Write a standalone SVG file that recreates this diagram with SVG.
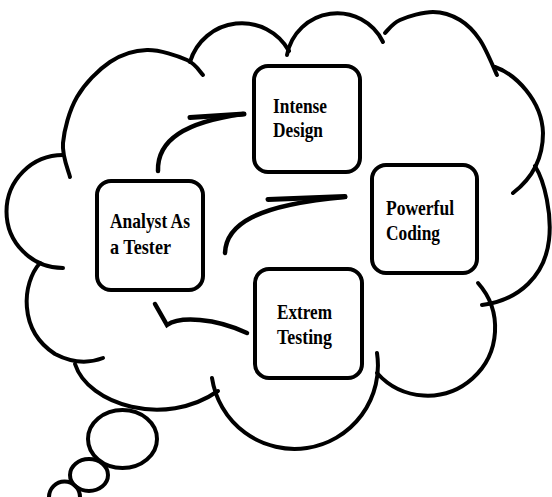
<svg xmlns="http://www.w3.org/2000/svg" width="552" height="497" viewBox="0 0 552 497">
<style>
.cl{fill:none;stroke:#000;stroke-width:4;stroke-linecap:round}
.box{fill:#fff;stroke:#000;stroke-width:4}
.t{font-family:"Liberation Serif","Times New Roman",serif;font-weight:bold;font-size:21px;fill:#000}
.cn{fill:none;stroke:#000;stroke-width:4.5;stroke-linecap:round}
.bar{fill:none;stroke:#000;stroke-width:5;stroke-linecap:round}
</style>
<rect width="552" height="497" fill="#fff"/>
<g id="cloud">
<path class="cl" d="M70,177 C68.8,171.3 61.8,156.3 63,143 C64.2,129.7 69.2,110.5 77,97 C84.8,83.5 98.3,69.8 110,62 C121.7,54.2 134.2,50.3 147,50 C159.8,49.7 177.7,55.8 187,60 C196.3,64.2 200.3,72.5 203,75"/>
<path class="cl" d="M190,62 A54,54 0 0 1 289,51"/>
<path class="cl" d="M287,55 A51,51 0 0 1 383,42"/>
<path class="cl" d="M385,33 C387.5,30.8 392,23.5 400,20 C408,16.5 423,12 433,12 C443,12 452.2,15.3 460,20 C467.8,24.7 473.8,30.8 480,40 C486.2,49.2 494.2,69.2 497,75"/>
<path class="cl" d="M495,67 C515,74 542,100 543,133 C543,160 530,180 513,193"/>
<path class="cl" d="M535,166 C545,182 552,215 549,240 C545,275 520,300 482,305"/>
<path class="cl" d="M478,283 A67,67 0 0 1 377,373"/>
<path class="cl" d="M377,353 A83,83 0 0 1 212,378"/>
<path class="cl" d="M75,364 C88,405 165,428 218,391"/>
<path class="cl" d="M40,263 C22,283 18,330 55,354 Q80,367 103,358"/>
<path class="cl" d="M63,155 A56.5,56.5 0 0 0 63,268"/>
<ellipse class="cl" cx="122.5" cy="439" rx="34.5" ry="29"/>
<ellipse class="cl" cx="89" cy="475" rx="19" ry="16"/>
<circle class="cl" cx="64.5" cy="497" r="15.5"/>
</g>
<g id="connectors">
<path class="cn" d="M158,171 C157,140 185,122 243,114"/>
<path class="bar" d="M190,117.5 L244,114"/>
<path class="cn" d="M225,253 C226,225 255,205 345,197"/>
<path class="bar" d="M268,199.5 L345,196.5"/>
<path class="cn" style="stroke-linejoin:miter" d="M155,304 L167,325 C180,316 215,318 247,333"/>
</g>
<g id="node-analyst">
<rect class="box" x="97" y="181" width="106" height="109" rx="14"/>
<text class="t" x="110" y="228" textLength="80" lengthAdjust="spacingAndGlyphs">Analyst As</text>
<text class="t" x="110" y="254" textLength="61" lengthAdjust="spacingAndGlyphs">a Tester</text>
</g>
<g id="node-design">
<rect class="box" x="254" y="66" width="106" height="106" rx="14"/>
<text class="t" x="273" y="113" textLength="54" lengthAdjust="spacingAndGlyphs">Intense</text>
<text class="t" x="273" y="137" textLength="50" lengthAdjust="spacingAndGlyphs">Design</text>
</g>
<g id="node-coding">
<rect class="box" x="372" y="165" width="105" height="108" rx="14"/>
<text class="t" x="386" y="215" textLength="68" lengthAdjust="spacingAndGlyphs">Powerful</text>
<text class="t" x="386" y="240" textLength="54" lengthAdjust="spacingAndGlyphs">Coding</text>
</g>
<g id="node-testing">
<rect class="box" x="255" y="269" width="107" height="109" rx="14"/>
<text class="t" x="277" y="319" textLength="55" lengthAdjust="spacingAndGlyphs">Extrem</text>
<text class="t" x="277" y="344" textLength="55" lengthAdjust="spacingAndGlyphs">Testing</text>
</g>
</svg>
